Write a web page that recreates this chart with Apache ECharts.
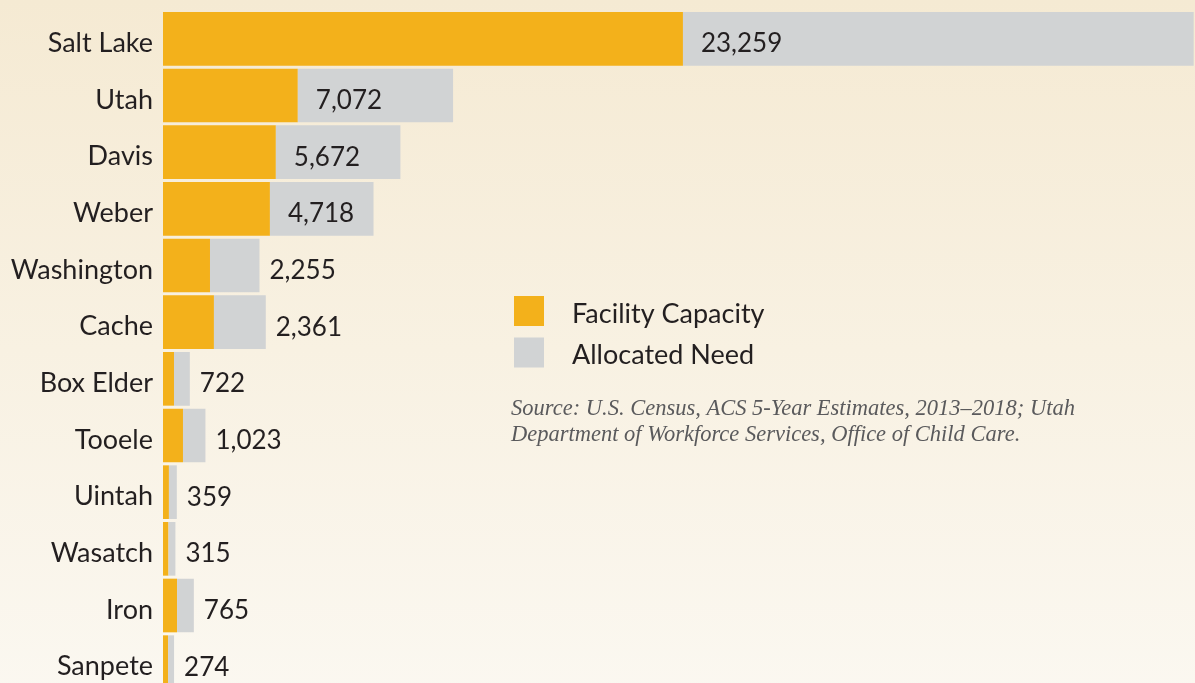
<!DOCTYPE html>
<html>
<head>
<meta charset="utf-8">
<script src="https://cdn.jsdelivr.net/npm/echarts@6/dist/echarts.min.js"></script>
<style>
  html, body { margin: 0; padding: 0; overflow: hidden; }
  /* taller than the window: the last row is cut off at the bottom, as in the original */
  #chart { width: 1195px; height: 700px; }
</style>
</head>
<body>
<div id="chart"></div>
<script>
// counties, top to bottom
var counties = ['Salt Lake', 'Utah', 'Davis', 'Weber', 'Washington', 'Cache',
  'Box Elder', 'Tooele', 'Uintah', 'Wasatch', 'Iron', 'Sanpete'];

// facility capacity
var capacity = [23680, 6140, 5140, 4870, 2140, 2320, 500, 910, 270, 250, 640, 230];

// unmet part of allocated need (the printed numbers)
var gap = [23259, 7072, 5672, 4718, 2255, 2361, 722, 1023, 359, 315, 765, 274];

// which labels sit inside the gray bar
var insideLabel = [true, true, true, true, false, false, false, false, false, false, false, false];

var orange = '#f3b11b';
var gray = '#d1d3d4';
var textColor = '#231f20';

var chart = echarts.init(document.getElementById('chart'));

var gapData = gap.map(function (v, i) {
  return {
    value: v,
    label: insideLabel[i]
      ? { position: 'insideLeft', distance: 18 }
      : { position: 'right', distance: 10 }
  };
});

var option = {
  backgroundColor: new echarts.graphic.LinearGradient(0, 0, 0, 1, [
    { offset: 0, color: '#f5ead3' },
    { offset: 1, color: '#fbf8f1' }
  ]),
  animation: false,
  textStyle: { fontFamily: 'Lato' },
  grid: { left: 163, top: 10.5, width: 1032, height: 680 },
  xAxis: {
    type: 'value',
    min: 0,
    max: 47000,
    show: false
  },
  yAxis: {
    type: 'category',
    data: counties,
    inverse: true,
    axisLine: { show: false },
    axisTick: { show: false },
    axisLabel: {
      margin: 10,
      formatter: function (v) { return '{c|' + v + '}'; },
      rich: {
        c: { color: textColor, fontSize: 27, fontFamily: 'Lato', padding: [9, 0, 0, 0] }
      }
    }
  },
  legend: {
    orient: 'vertical',
    left: 514,
    top: 296,
    padding: 0,
    itemWidth: 30,
    itemHeight: 30,
    itemGap: 10,
    icon: 'rect',
    data: ['Facility Capacity', 'Allocated Need'],
    formatter: function (name) { return '{t|' + name + '}'; },
    textStyle: {
      rich: {
        t: { color: textColor, fontSize: 27, fontFamily: 'Lato', padding: [6, 0, 0, 23] }
      }
    }
  },
  graphic: [{
    type: 'text',
    left: 511,
    top: 396,
    style: {
      text: 'Source: U.S. Census, ACS 5-Year Estimates, 2013–2018; Utah\nDepartment of Workforce Services, Office of Child Care.',
      font: 'italic 22.5px "Liberation Serif"',
      lineHeight: 26,
      fill: '#5a5a5c'
    }
  }],
  series: [{
    name: 'Facility Capacity',
    type: 'bar',
    stack: 'need',
    data: capacity,
    barCategoryGap: '5.3%',
    itemStyle: { color: orange }
  }, {
    name: 'Allocated Need',
    type: 'bar',
    stack: 'need',
    data: gapData,
    itemStyle: { color: gray },
    label: {
      show: true,
      color: textColor,
      fontSize: 26,
      fontFamily: 'Lato',
      offset: [0, 5],
      formatter: function (p) { return p.value.toLocaleString('en-US'); }
    }
  }]
};

chart.setOption(option);
</script>
</body>
</html>
